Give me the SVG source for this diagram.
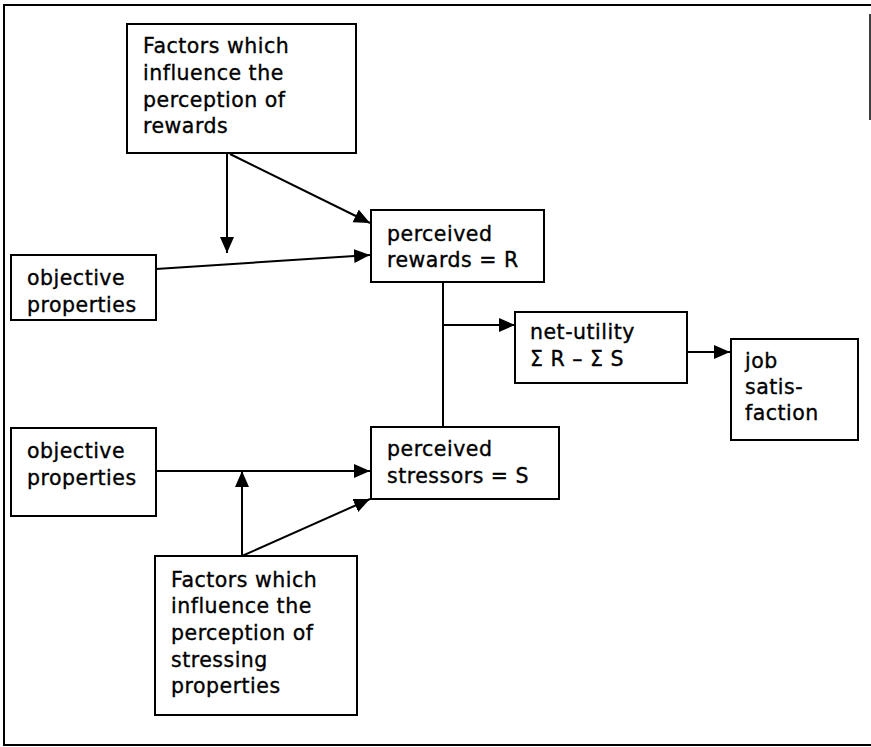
<svg xmlns="http://www.w3.org/2000/svg" width="871" height="747" viewBox="0 0 871 747">
<defs>
<style>
.box{fill:#fff;stroke:#000;stroke-width:2}
.t{font-family:"DejaVu Sans","Verdana",sans-serif;font-size:20.5px;letter-spacing:0.5px;fill:#000;stroke:#000;stroke-width:0.35}
.c{fill:none;stroke:#000;stroke-width:2}
</style>
<marker id="ah" markerUnits="userSpaceOnUse" markerWidth="18" markerHeight="15" refX="16" refY="7" orient="auto">
<path d="M0,0 L16,7 L0,14 z" fill="#000"/>
</marker>
</defs>
<rect width="871" height="747" fill="#fff"/>
<g id="frame" class="c">
<path d="M871,5 H4 V745 H871"/>
<path d="M870,14 V120" stroke-width="1.5"/>
</g>
<g id="connectors" class="c">
<path d="M227,154 V253" marker-end="url(#ah)"/>
<path d="M230,154 L370,223" marker-end="url(#ah)"/>
<path d="M156,269 L370,255" marker-end="url(#ah)"/>
<path d="M443,282 V427"/>
<path d="M443,325 H515" marker-end="url(#ah)"/>
<path d="M687,352 H730" marker-end="url(#ah)"/>
<path d="M156,471 H370" marker-end="url(#ah)"/>
<path d="M242,556 V471" marker-end="url(#ah)"/>
<path d="M242,556 L370,499" marker-end="url(#ah)"/>
</g>
<g id="factors-rewards">
<rect class="box" x="127" y="24" width="229" height="129"/>
<text class="t" x="143" y="53">Factors which</text>
<text class="t" x="143" y="80">influence the</text>
<text class="t" x="143" y="107">perception of</text>
<text class="t" x="143" y="133">rewards</text>
</g>
<g id="objective-rewards">
<rect class="box" x="11" y="255" width="145" height="65"/>
<text class="t" x="27" y="285">objective</text>
<text class="t" x="27" y="312">properties</text>
</g>
<g id="perceived-rewards">
<rect class="box" x="371" y="210" width="173" height="72"/>
<text class="t" x="387" y="241">perceived</text>
<text class="t" x="387" y="267">rewards = R</text>
</g>
<g id="net-utility">
<rect class="box" x="515" y="312" width="172" height="71"/>
<text class="t" x="530" y="339">net-utility</text>
<text class="t" x="530" y="366">Σ R – Σ S</text>
</g>
<g id="job-satisfaction">
<rect class="box" x="731" y="339" width="127" height="101"/>
<text class="t" x="745" y="368">job</text>
<text class="t" x="745" y="394">satis-</text>
<text class="t" x="745" y="420">faction</text>
</g>
<g id="objective-stressors">
<rect class="box" x="11" y="428" width="145" height="88"/>
<text class="t" x="27" y="458">objective</text>
<text class="t" x="27" y="485">properties</text>
</g>
<g id="perceived-stressors">
<rect class="box" x="371" y="427" width="188" height="72"/>
<text class="t" x="387" y="456">perceived</text>
<text class="t" x="387" y="483">stressors = S</text>
</g>
<g id="factors-stressors">
<rect class="box" x="155" y="556" width="202" height="159"/>
<text class="t" x="171" y="587">Factors which</text>
<text class="t" x="171" y="613">influence the</text>
<text class="t" x="171" y="640">perception of</text>
<text class="t" x="171" y="667">stressing</text>
<text class="t" x="171" y="693">properties</text>
</g>
</svg>
